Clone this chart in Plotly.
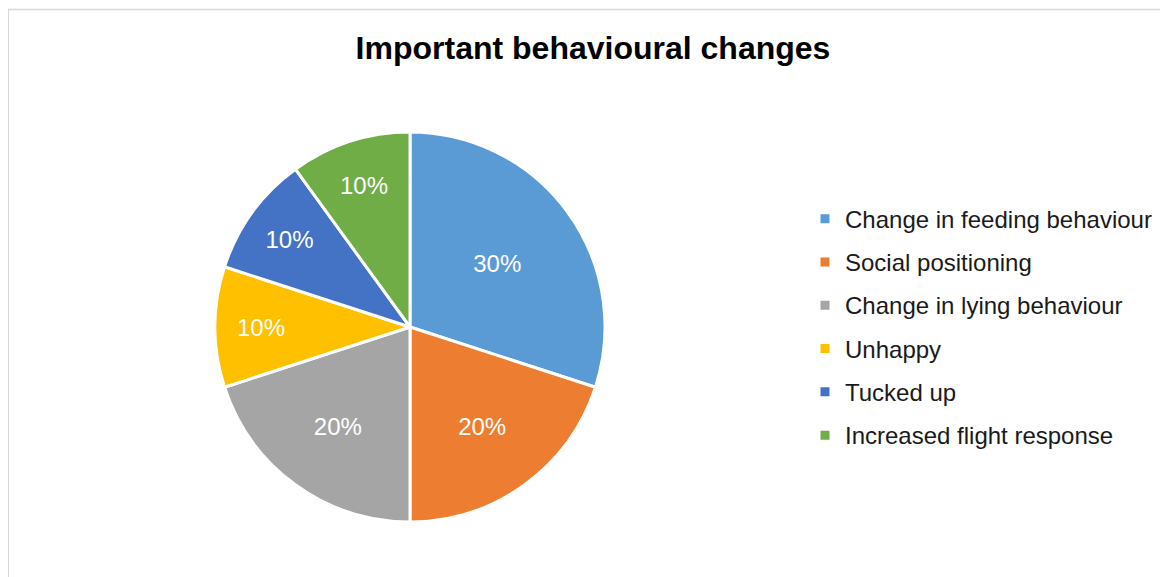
import plotly.graph_objects as go

# chart data
labels = ['Change in feeding behaviour', 'Social positioning', 'Change in lying behaviour',
          'Unhappy', 'Tucked up', 'Increased flight response']
values = [30, 20, 20, 10, 10, 10]
colors = ['#5B9BD5', '#ED7D31', '#A5A5A5', '#FFC000', '#4472C4', '#70AD47']

# page body has an 8px margin, so the figure is a bit smaller than the window
W, H = 1160, 569
FONT = 'Liberation Sans, Arial, sans-serif'

# legend rows in the original are spaced wider than plotly's default, so the
# legend font is large (sets row height) and the visible text is styled smaller
legend_labels = ['<span style="font-size:24px;baseline-shift:3px">%s</span>' % s for s in labels]

fig = go.Figure(go.Pie(
    labels=legend_labels,
    values=values,
    sort=False,
    direction='clockwise',
    rotation=0,
    marker=dict(colors=colors, line=dict(color='white', width=3)),
    textinfo='percent',
    textposition='inside',
    insidetextorientation='horizontal',
    textfont=dict(family=FONT, size=24, color='white'),
    hoverinfo='label+percent',
    domain=dict(x=[207 / W, 597 / W], y=[55 / H, 445 / H]),
))

fig.update_layout(
    width=W, height=H,
    margin=dict(l=0, r=0, t=0, b=0),
    paper_bgcolor='white',
    title=dict(text='<b>Important behavioural changes</b>', x=585 / W, xanchor='center',
               y=1 - 40 / H, yanchor='middle',
               font=dict(family=FONT, size=32, color='black')),
    legend=dict(x=797 / W, xanchor='left', y=1 - 319 / H, yanchor='middle',
                font=dict(family=FONT, size=31, color='#1a1a1a'),
                bgcolor='rgba(0,0,0,0)'),
    shapes=[dict(type='rect', xref='paper', yref='paper', x0=0.3 / W, x1=1.05,
                 y0=-0.05, y1=1 - 1.5 / H, line=dict(color='#D9D9D9', width=1.5))],
)

fig.write_html("out.html")
